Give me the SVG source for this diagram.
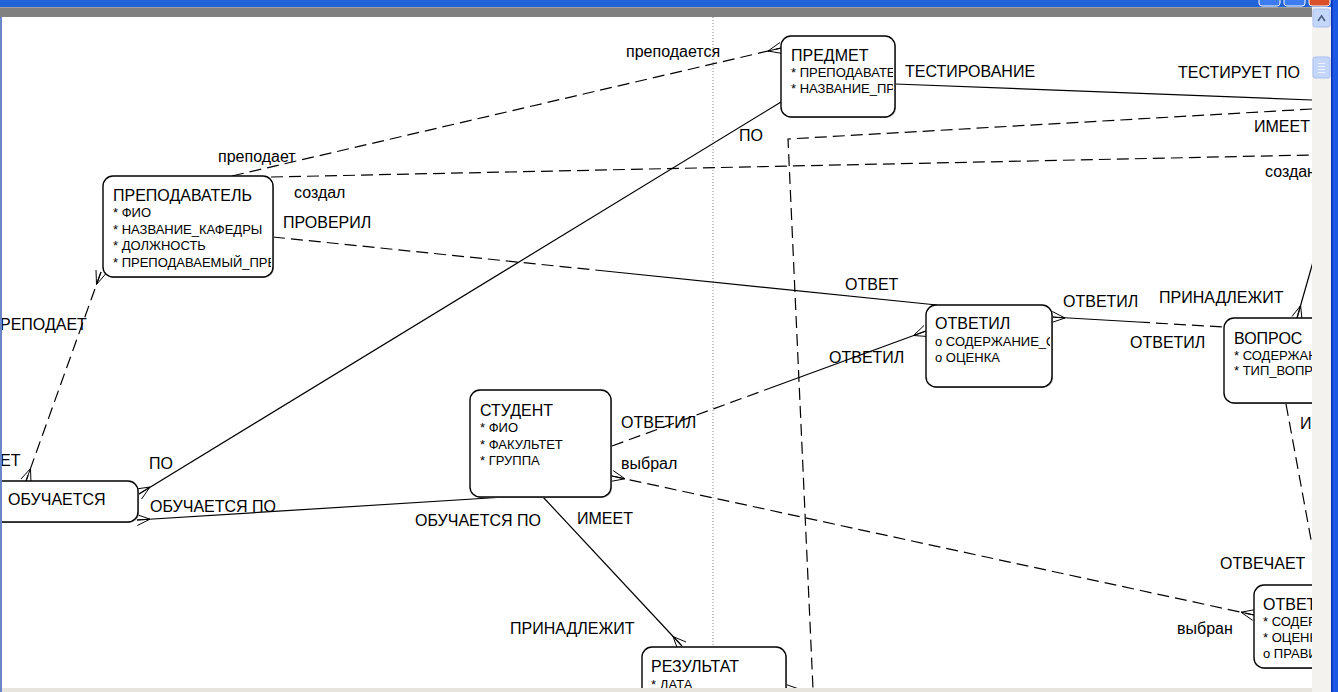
<svg xmlns="http://www.w3.org/2000/svg" width="1338" height="692" viewBox="0 0 1338 692">
<style>
.bg{fill:#fff}
.nb{fill:#fff;stroke:#000;stroke-width:1.4}
.sh{fill:#b0b0b0}
.t{font-family:"Liberation Sans",Arial,sans-serif;font-size:16px;fill:#000}
.a{font-family:"Liberation Sans",Arial,sans-serif;font-size:13px;fill:#000}
.l{font-family:"Liberation Sans",Arial,sans-serif;font-size:16px;fill:#000}
.c{stroke:#000;stroke-width:1.2;fill:none}
.d{stroke:#000;stroke-width:1.2;fill:none;stroke-dasharray:12 6}
.cf{stroke:#000;stroke-width:1;fill:none}
</style>
<defs>
<clipPath id="cpPred"><rect x="782" y="37" width="111" height="79"/></clipPath>
<clipPath id="cpPrep"><rect x="104" y="177" width="167" height="99"/></clipPath>
<clipPath id="cpOtvl"><rect x="927" y="306" width="123" height="80"/></clipPath>
<clipPath id="cpVopr"><rect x="1225" y="319" width="87" height="83"/></clipPath>
<clipPath id="cpOtv"><rect x="1255" y="586" width="57" height="81"/></clipPath>
</defs>
<rect class="bg" x="0" y="0" width="1338" height="692"/>
<line x1="713" y1="17" x2="713" y2="692" stroke="#888" stroke-width="1" stroke-dasharray="1 2"/>

<g id="connectors">
  <!-- преподает / преподается -->
  <line class="d" x1="232" y1="176" x2="781" y2="48"/>
  <path class="cf" d="M768,51 L780,42.5 M768,51 L781,48 M768,51 L782.5,53.5"/>
  <!-- ПО / ПО -->
  <line class="c" x1="139" y1="494" x2="781" y2="102"/>
  <path class="cf" d="M150,487 L141.6,499 M150,487 L139,494 M150,487 L136,489"/>
  <!-- ТЕСТИРОВАНИЕ -->
  <line class="c" x1="895" y1="84" x2="1312" y2="100"/>
  <!-- ИМЕЕТ -->
  <polyline class="d" points="1312,109 788,139 813,689 787,689"/>
  <path class="cf" d="M799,689 L786,684.5 M799,689 L786,689 M799,689 L786,693.5"/>
  <!-- создал / создан -->
  <line class="d" x1="271" y1="177" x2="1312" y2="155"/>
  <!-- ПРОВЕРИЛ / ОТВЕТ -->
  <line class="d" x1="273" y1="237" x2="605" y2="271"/>
  <line class="c" x1="605" y1="271" x2="937" y2="305"/>
  <!-- СТУДЕНТ ОТВЕТИЛ -->
  <line class="d" x1="612" y1="446" x2="769" y2="388.5"/>
  <line class="c" x1="769" y1="388.5" x2="926" y2="331"/>
  <path class="cf" d="M913.5,335.5 L924,325.5 M913.5,335.5 L926,331 M913.5,335.5 L928,336.5"/>
  <!-- ОТВЕТИЛ - ВОПРОС -->
  <line class="c" x1="1052" y1="317" x2="1138" y2="322"/>
  <line class="d" x1="1138" y1="322" x2="1224" y2="327"/>
  <path class="cf" d="M1065,318 L1051.7,322.5 M1065,318 L1052,317 M1065,318 L1052.3,311.5"/>
  <!-- ВОПРОС ПРИНАДЛЕЖИТ -->
  <line class="c" x1="1297" y1="318" x2="1313" y2="262"/>
  <path class="cf" d="M1300.6,305.5 L1302,319.5 M1300.6,305.5 L1297,318 M1300.6,305.5 L1292,316.5"/>
  <!-- ВОПРОС - ОТВЕТ -->
  <line class="d" x1="1286" y1="404" x2="1312" y2="545"/>
  <!-- выбрал / выбран -->
  <line class="d" x1="612" y1="476" x2="1254" y2="615"/>
  <path class="cf" d="M625,478.8 L610.8,481.4 M625,478.8 L612,476 M625,478.8 L613.2,470.6"/>
  <path class="cf" d="M1241,612.2 L1252.8,620.4 M1241,612.2 L1254,615 M1241,612.2 L1255.2,609.6"/>
  <!-- ОБУЧАЕТСЯ ПО -->
  <line class="c" x1="137" y1="520" x2="505" y2="497"/>
  <path class="cf" d="M150,519.2 L137.3,525.5 M150,519.2 L137,520 M150,519.2 L136.7,514.5"/>
  <!-- ИМЕЕТ / ПРИНАДЛЕЖИТ -->
  <line class="c" x1="543" y1="497" x2="682" y2="646"/>
  <path class="cf" d="M673,636.5 L686,642 M673,636.5 L682,646 M673,636.5 L678,650"/>
  <!-- ПРЕПОДАЕТ -->
  <line class="d" x1="101" y1="272" x2="26" y2="481"/>
  <path class="cf" d="M30.5,468.5 L31,483 M30.5,468.5 L26,481 M30.5,468.5 L21,479"/>
  <path class="cf" d="M96.5,284.5 L106,273.5 M96.5,284.5 L101,272 M96.5,284.5 L96,270"/>
</g>

<g id="node-predmet">
  <rect class="sh" x="782" y="37" width="114" height="81" rx="10"/>
  <rect class="nb" x="781" y="36" width="114" height="81" rx="10"/>
  <g clip-path="url(#cpPred)">
    <text class="t" x="791" y="61">ПРЕДМЕТ</text>
    <text class="a" x="791" y="77">* ПРЕПОДАВАТЕЛ</text>
    <text class="a" x="791" y="93">* НАЗВАНИЕ_ПРЕ</text>
  </g>
</g>
<g id="node-prepodavatel">
  <rect class="sh" x="104" y="177" width="170" height="101" rx="10"/>
  <rect class="nb" x="103" y="176" width="170" height="101" rx="10"/>
  <g clip-path="url(#cpPrep)">
    <text class="t" x="113" y="201">ПРЕПОДАВАТЕЛЬ</text>
    <text class="a" x="113" y="217">* ФИО</text>
    <text class="a" x="113" y="234">* НАЗВАНИЕ_КАФЕДРЫ</text>
    <text class="a" x="113" y="250">* ДОЛЖНОСТЬ</text>
    <text class="a" x="113" y="267">* ПРЕПОДАВАЕМЫЙ_ПРЕ</text>
  </g>
</g>
<g id="node-obuchaetsya">
  <rect class="sh" x="-19" y="482" width="158" height="41" rx="10"/>
  <rect class="nb" x="-20" y="481" width="158" height="41" rx="10"/>
  <text class="t" x="8" y="505">ОБУЧАЕТСЯ</text>
</g>
<g id="node-student">
  <rect class="sh" x="471" y="391" width="141" height="107" rx="10"/>
  <rect class="nb" x="470" y="390" width="141" height="107" rx="10"/>
  <text class="t" x="480" y="416">СТУДЕНТ</text>
  <text class="a" x="480" y="432">* ФИО</text>
  <text class="a" x="480" y="449">* ФАКУЛЬТЕТ</text>
  <text class="a" x="480" y="465">* ГРУППА</text>
</g>
<g id="node-otvetil">
  <rect class="sh" x="927" y="306" width="126" height="82" rx="10"/>
  <rect class="nb" x="926" y="305" width="126" height="82" rx="10"/>
  <g clip-path="url(#cpOtvl)">
    <text class="t" x="935" y="329">ОТВЕТИЛ</text>
    <text class="a" x="935" y="346">o СОДЕРЖАНИЕ_О</text>
    <text class="a" x="935" y="362">o ОЦЕНКА</text>
  </g>
</g>
<g id="node-vopros">
  <rect class="sh" x="1225" y="319" width="130" height="85" rx="10"/>
  <rect class="nb" x="1224" y="318" width="130" height="85" rx="10"/>
  <g clip-path="url(#cpVopr)">
    <text class="t" x="1234" y="344">ВОПРОС</text>
    <text class="a" x="1234" y="360">* СОДЕРЖАН</text>
    <text class="a" x="1234" y="375">* ТИП_ВОПР</text>
  </g>
</g>
<g id="node-otvet">
  <rect class="sh" x="1255" y="586" width="120" height="83" rx="10"/>
  <rect class="nb" x="1254" y="585" width="120" height="83" rx="10"/>
  <g clip-path="url(#cpOtv)">
    <text class="t" x="1263" y="610">ОТВЕТ</text>
    <text class="a" x="1263" y="626">* СОДЕР</text>
    <text class="a" x="1263" y="642">* ОЦЕНК</text>
    <text class="a" x="1263" y="658">o ПРАВИ</text>
  </g>
</g>
<g id="node-rezultat">
  <rect class="sh" x="643" y="648" width="144" height="80" rx="10"/>
  <rect class="nb" x="642" y="647" width="144" height="80" rx="10"/>
  <text class="t" x="651" y="672">РЕЗУЛЬТАТ</text>
  <text class="a" x="651" y="689">* ДАТА</text>
</g>

<g id="labels">
  <text class="l" x="626" y="57">преподается</text>
  <text class="l" x="905" y="77">ТЕСТИРОВАНИЕ</text>
  <text class="l" x="1178" y="78">ТЕСТИРУЕТ ПО</text>
  <text class="l" x="739" y="141">ПО</text>
  <text class="l" x="1254" y="132">ИМЕЕТ</text>
  <text class="l" x="218" y="162">преподает</text>
  <text class="l" x="294" y="198">создал</text>
  <text class="l" x="1265" y="177">создан</text>
  <text class="l" x="283" y="228">ПРОВЕРИЛ</text>
  <text class="l" x="845" y="290">ОТВЕТ</text>
  <text class="l" x="1063" y="307">ОТВЕТИЛ</text>
  <text class="l" x="1159" y="303">ПРИНАДЛЕЖИТ</text>
  <text class="l" x="0" y="330">РЕПОДАЕТ</text>
  <text class="l" x="829" y="363">ОТВЕТИЛ</text>
  <text class="l" x="1130" y="348">ОТВЕТИЛ</text>
  <text class="l" x="621" y="428">ОТВЕТИЛ</text>
  <text class="l" x="1300" y="429">И</text>
  <text class="l" x="0" y="466">ЕТ</text>
  <text class="l" x="149" y="469">ПО</text>
  <text class="l" x="621" y="469">выбрал</text>
  <text class="l" x="150" y="512">ОБУЧАЕТСЯ ПО</text>
  <text class="l" x="415" y="526">ОБУЧАЕТСЯ ПО</text>
  <text class="l" x="577" y="524">ИМЕЕТ</text>
  <text class="l" x="1220" y="569">ОТВЕЧАЕТ</text>
  <text class="l" x="1177" y="634">выбран</text>
  <text class="l" x="510" y="634">ПРИНАДЛЕЖИТ</text>
</g>

<g id="chrome">
  <rect x="0" y="0" width="1338" height="7" fill="#2363d8"/>
  <rect x="1259" y="-14" width="21" height="20" rx="3" fill="#3c7bf0" stroke="#fff" stroke-width="1"/>
  <rect x="1284" y="-14" width="21" height="20" rx="3" fill="#3c7bf0" stroke="#fff" stroke-width="1"/>
  <rect x="1309" y="-14" width="21" height="20" rx="3" fill="#d9502a" stroke="#fff" stroke-width="1"/>
  <rect x="0" y="7" width="1312" height="10" fill="#808080"/>
  <rect x="0" y="7" width="1312" height="1" fill="#a0a0a0"/>
  <rect x="0" y="17" width="2" height="675" fill="#6b86c6"/>
  <rect x="1312" y="7" width="19" height="685" fill="#f3f2ee"/>
  <rect x="1313" y="9" width="17" height="18" rx="2" fill="#c5d6fb" stroke="#a8bff0" stroke-width="1"/>
  <path d="M1318,21 L1321.5,16 L1325,21" fill="none" stroke="#4d6185" stroke-width="1.6"/>
  <rect x="1313" y="57" width="17" height="21" rx="2" fill="#c5d6fb" stroke="#a8bff0" stroke-width="1"/>
  <path d="M1318,63.5 H1325 M1318,66.5 H1325 M1318,69.5 H1325 M1318,72.5 H1325" stroke="#eef3ff" stroke-width="1"/>
  <rect x="1331" y="0" width="7" height="692" fill="#1b58e3"/>
  <rect x="1331" y="0" width="1.5" height="692" fill="#0a2fb5"/>
  <rect x="2" y="688" width="1310" height="4" fill="#e6e4dc"/>
</g>
</svg>
